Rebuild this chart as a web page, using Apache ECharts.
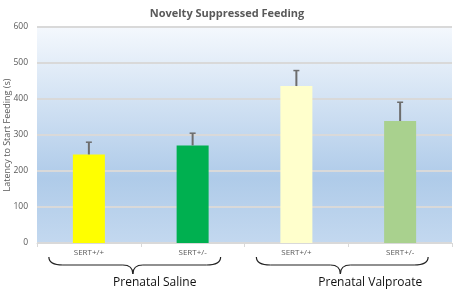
<!DOCTYPE html>
<html>
<head>
<meta charset="utf-8">
<script src="https://cdn.jsdelivr.net/npm/echarts@6/dist/echarts.min.js"></script>
<style>
  html, body { margin: 0; padding: 0; background: #fff; }
  #main { width: 454px; height: 290px; }
</style>
</head>
<body>
<div id="main"></div>
<script>
var categories = ['SERT+/+', 'SERT+/-', 'SERT+/+', 'SERT+/-'];
var latency = [246, 271, 436, 339];
var sem = [34, 34, 43, 52];
var groups = ['Prenatal Saline', 'Prenatal Valproate'];
var yTicks = { min: 0, max: 600, interval: 100 };
var yTitle = 'Latency to Start Feeding (s)';
var colors = ['#ffff00', '#00b050', '#ffffcc', '#a9d18e'];

var chart = echarts.init(document.getElementById('main'));

var option = {
    animation: false,
    title: {
        text: 'Novelty Suppressed Feeding',
        left: 'center',
        top: 3,
        textStyle: {
            fontFamily: 'Open Sans',
            fontSize: 11,
            fontWeight: 'bold',
            color: '#595959'
        }
    },
    grid: {
        left: 37,
        right: 2,
        top: 27,
        bottom: 47,
        outerBoundsMode: 'none',
        show: true,
        borderWidth: 0,
        backgroundColor: new echarts.graphic.LinearGradient(0, 0, 0, 1, [
            { offset: 0, color: '#f4f8fd' },
            { offset: 0.7, color: '#afcbe9' },
            { offset: 1, color: '#c3d8ef' }
        ])
    },
    xAxis: {
        type: 'category',
        data: categories,
        axisLine: { lineStyle: { color: '#d9d9d9' } },
        axisTick: { show: true, length: 4, lineStyle: { color: '#d9d9d9' } },
        axisLabel: {
            fontFamily: 'Open Sans',
            fontSize: 8,
            color: '#595959',
            margin: 6
        }
    },
    yAxis: {
        type: 'value',
        min: yTicks.min,
        max: yTicks.max,
        interval: yTicks.interval,
        axisLine: { show: false },
        axisTick: { show: false },
        axisLabel: {
            fontFamily: 'Open Sans',
            fontSize: 8.5,
            color: '#595959',
            margin: 9
        },
        splitLine: { lineStyle: { color: '#d9d9d9', width: 2 } }
    },
    series: [
        {
            type: 'bar',
            data: latency.map(function (v, i) {
                return { value: v, itemStyle: { color: colors[i] } };
            }),
            barWidth: 32,
            z: 2
        },
        {
            // error bars (upper only)
            type: 'custom',
            data: latency.map(function (v, i) { return [i, v, v + sem[i]]; }),
            renderItem: function (params, api) {
                var base = api.coord([api.value(0), api.value(1)]);
                var top = api.coord([api.value(0), api.value(2)]);
                return {
                    type: 'group',
                    children: [
                        { type: 'line', shape: { x1: base[0], y1: base[1], x2: top[0], y2: top[1] }, style: { stroke: '#6d6d6d', lineWidth: 2 } },
                        { type: 'line', shape: { x1: top[0] - 3, y1: top[1], x2: top[0] + 3, y2: top[1] }, style: { stroke: '#6d6d6d', lineWidth: 1.5 } }
                    ]
                };
            },
            z: 3
        }
    ]
};

chart.setOption(option);

// curly brace built from curves and lines
function brace(x0, xm, x1, yTop, yMid, yTip) {
    var st = { stroke: '#222', lineWidth: 1.2, fill: null };
    return [
        { type: 'bezierCurve', shape: { x1: x0, y1: yTop, cpx1: x0, cpy1: yMid, x2: x0 + 14, y2: yMid }, style: st },
        { type: 'line', shape: { x1: x0 + 14, y1: yMid, x2: xm - 10, y2: yMid }, style: st },
        { type: 'bezierCurve', shape: { x1: xm - 10, y1: yMid, cpx1: xm, cpy1: yMid, x2: xm, y2: yTip }, style: st },
        { type: 'bezierCurve', shape: { x1: xm, y1: yTip, cpx1: xm, cpy1: yMid, x2: xm + 10, y2: yMid }, style: st },
        { type: 'line', shape: { x1: xm + 10, y1: yMid, x2: x1 - 14, y2: yMid }, style: st },
        { type: 'bezierCurve', shape: { x1: x1 - 14, y1: yMid, cpx1: x1, cpy1: yMid, x2: x1, y2: yTop }, style: st }
    ];
}

var graphics = [];
groups.forEach(function (g, k) {
    var a = chart.convertToPixel({ xAxisIndex: 0 }, k * 2);
    var b = chart.convertToPixel({ xAxisIndex: 0 }, k * 2 + 1);
    graphics = graphics.concat(brace(a - 40, a + 44, b + 28, 257, 265, 274));
    graphics.push({
        type: 'text',
        x: (a + b) / 2 + 14 + k * 8,
        y: 289,
        style: {
            text: g,
            fontFamily: 'Open Sans',
            fontSize: 12,
            fill: '#111',
            align: 'center',
            verticalAlign: 'bottom'
        }
    });
});

// y axis title, centred on the plot height
var yMid = (chart.convertToPixel({ yAxisIndex: 0 }, yTicks.min) + chart.convertToPixel({ yAxisIndex: 0 }, yTicks.max)) / 2;
graphics.push({
    type: 'text',
    x: 7,
    y: yMid,
    rotation: Math.PI / 2,
    style: {
        text: yTitle,
        fontFamily: 'Open Sans',
        fontSize: 9,
        fill: '#595959',
        align: 'center',
        verticalAlign: 'middle'
    }
});
chart.setOption({ graphic: graphics });
</script>
</body>
</html>
